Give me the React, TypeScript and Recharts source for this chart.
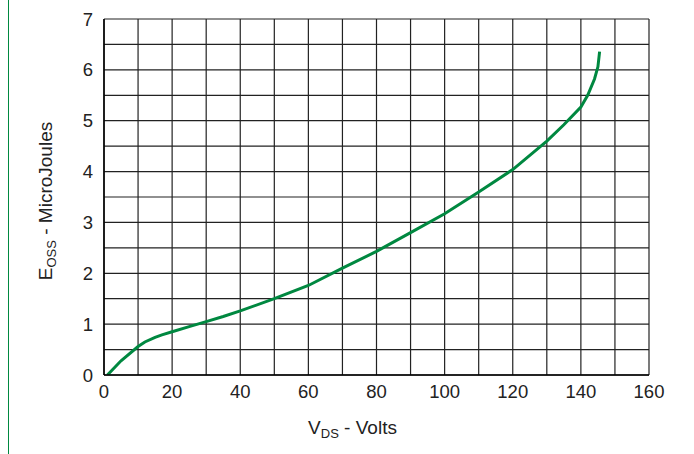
import React from 'react';
import { LineChart, Line, XAxis, YAxis, CartesianGrid } from 'recharts';

// V_DS (volts) and E_OSS (microjoules)
const vds = [1, 5, 10, 12, 15, 17, 20, 25, 30, 35, 40, 50, 60, 70, 80, 90, 100, 110, 120, 130, 135, 140, 142, 144, 145, 145.5];
const eoss = [0, 0.28, 0.56, 0.65, 0.74, 0.79, 0.85, 0.95, 1.05, 1.15, 1.26, 1.5, 1.76, 2.1, 2.43, 2.8, 3.17, 3.6, 4.04, 4.6, 4.92, 5.27, 5.5, 5.82, 6.06, 6.36];

const xTicks = [0, 10, 20, 30, 40, 50, 60, 70, 80, 90, 100, 110, 120, 130, 140, 150, 160];
const yTicks = [0, 0.5, 1, 1.5, 2, 2.5, 3, 3.5, 4, 4.5, 5, 5.5, 6, 6.5, 7];

const data = vds.map((v, i) => ({ v, e: eoss[i] }));

const FONT = '"Liberation Sans", Arial, sans-serif';
const TEXT = '#222';
const GREEN = '#008840';

const XTitle = (props: any) => {
  const { viewBox } = props;
  const cx = viewBox.x + viewBox.width / 2 - 24;
  return (
    <text x={cx} y={viewBox.y + 59} textAnchor="middle" fill={TEXT} fontSize={19} fontFamily={FONT}>
      V<tspan fontSize={13} dy={4}>DS</tspan>
      <tspan dy={-4}> - Volts</tspan>
    </text>
  );
};

const YTitle = (props: any) => {
  const x = 52;
  const y = 201;
  return (
    <text x={x} y={y} textAnchor="middle" fill={TEXT} fontSize={19} fontFamily={FONT} transform={`rotate(-90 ${x} ${y})`}>
      E<tspan fontSize={13} dy={4}>OSS</tspan>
      <tspan dy={-4}> - MicroJoules</tspan>
    </text>
  );
};

export default function App() {
  return (
    <div style={{ position: 'absolute', left: 0, top: 0, width: 694, height: 454, background: '#fff' }}>
      <div style={{ position: 'absolute', left: 8, top: 0, width: 1, height: 454, background: GREEN }} />
      <LineChart width={694} height={454} data={data} margin={{ top: 19, right: 45, bottom: 0, left: 0 }}>
        <CartesianGrid stroke="#222" strokeWidth={1.2} />
        <XAxis
          dataKey="v"
          type="number"
          domain={[0, 160]}
          ticks={xTicks}
          interval={0}
          allowDataOverflow
          height={79}
          tickLine={false}
          tickMargin={4}
          axisLine={{ stroke: '#000', strokeWidth: 1.5 }}
          tick={{ fill: TEXT, fontSize: 18.5, fontFamily: FONT }}
          tickFormatter={(v: number) => (v % 20 === 0 ? String(v) : '')}
          label={<XTitle />}
        />
        <YAxis
          type="number"
          domain={[0, 7]}
          ticks={yTicks}
          interval={0}
          allowDataOverflow
          width={104}
          tickLine={false}
          tickMargin={5}
          axisLine={{ stroke: '#000', strokeWidth: 1.5 }}
          tick={{ fill: TEXT, fontSize: 18.5, fontFamily: FONT }}
          tickFormatter={(v: number) => (Number.isInteger(v) ? String(v) : '')}
          label={<YTitle />}
        />
        <Line
          type="linear"
          dataKey="e"
          stroke={GREEN}
          strokeWidth={3}
          dot={false}
          isAnimationActive={false}
        />
      </LineChart>
    </div>
  );
}
